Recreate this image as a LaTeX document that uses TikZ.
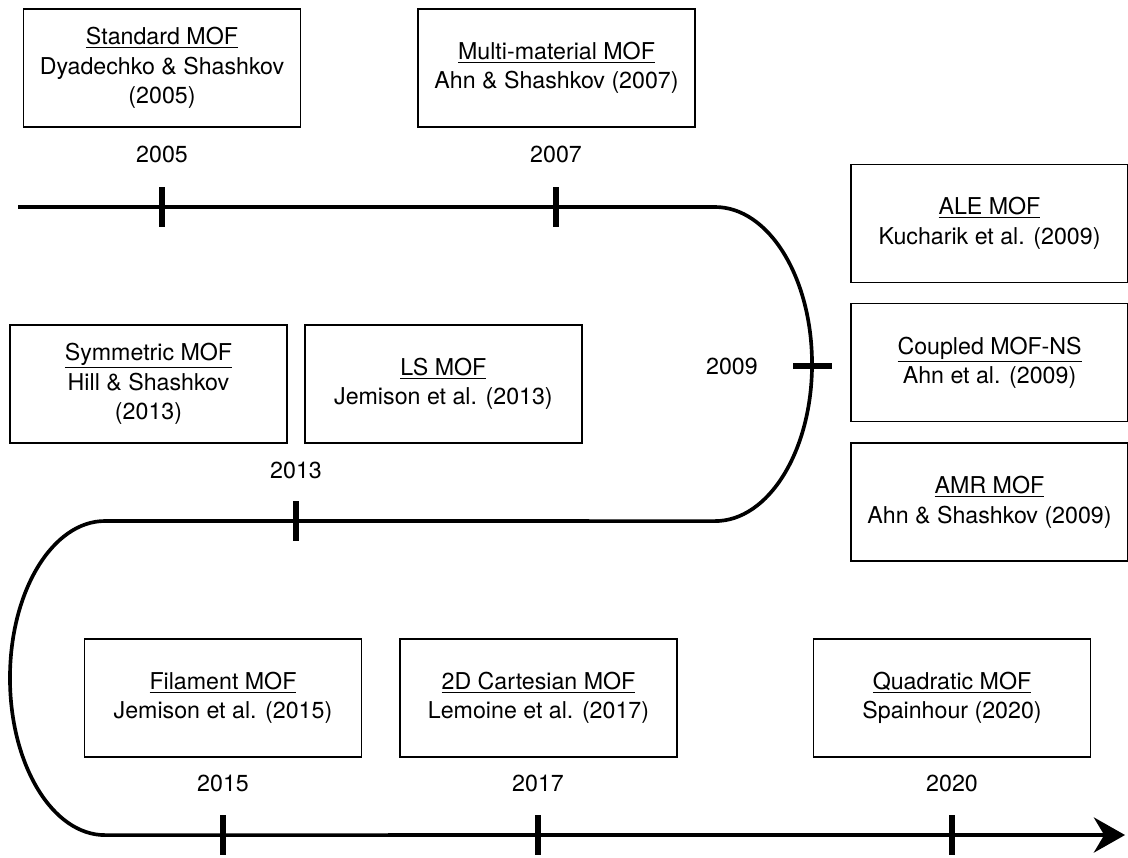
\documentclass[tikz,border=0pt]{standalone}
\usepackage{fontspec}
\setmainfont{TeX Gyre Heros}
\usetikzlibrary{arrows.meta, positioning, calc}

\begin{document}
\begin{tikzpicture}[
    x=0.025cm, y=-0.025cm,
    font=\fontsize{16.5}{21}\selectfont,
    box/.style={rectangle, draw, line width=0.9pt, minimum width=6.92cm, minimum height=2.95cm, align=center},
    year/.style={inner sep=0pt},
    tickmark/.style={line width=4pt},
    timeline/.style={line width=2.6pt}
]
\useasboundingbox (0,0) rectangle (1128,857);

% Timeline turning points
\coordinate (start) at (18,207);
\coordinate (turnA) at (715,207);
\coordinate (turnB) at (105,521);
\coordinate (finish) at (1125,835);

% Tick positions
\coordinate (t2005) at (162,207);
\coordinate (t2007) at (556,207);
\coordinate (t2009) at (812,366);
\coordinate (t2013) at (296,521);
\coordinate (t2015) at (223,835);
\coordinate (t2017) at (538,835);
\coordinate (t2020) at (952,835);

% Timeline
\draw[timeline, -{Stealth[length=0.78cm, width=0.88cm, inset=0.26cm]}]
    (start) -- (turnA)
    arc[start angle=90, end angle=-90, x radius=2.425cm, y radius=3.925cm]
    -- (turnB)
    arc[start angle=90, end angle=270, x radius=2.375cm, y radius=3.925cm]
    -- (finish);

% Ticks
\foreach \t in {t2005, t2007, t2013, t2015, t2017, t2020}
    \draw[tickmark] ($(\t)+(0,-20)$) -- ($(\t)+(0,20)$);
\draw[tickmark] ($(t2009)+(-19,0)$) -- ($(t2009)+(20,0)$);

% Years
\node[year, above=1.1cm of t2005] (y2005) {2005};
\node[year, above=1.1cm of t2007] (y2007) {2007};
\node[year, left=1.35cm of t2009] (y2009) {2009};
\node[year, above=1.05cm of t2013] (y2013) {2013};
\node[year, above=1.08cm of t2015] (y2015) {2015};
\node[year, above=1.08cm of t2017] (y2017) {2017};
\node[year, above=1.08cm of t2020] (y2020) {2020};

% First row
\node[box] (standard) at (162,68) {\underline{Standard MOF}\\Dyadechko \& Shashkov\\(2005)};
\node[box] (multi) at (556.5,68) {\underline{Multi-material MOF}\\Ahn \& Shashkov (2007)};

% 2009 group
\node[box] (ale) at (989.5,223.5) {\underline{ALE MOF}\\Kucharik et al. (2009)};
\node[box, below=0.5cm of ale] (coupled) {\underline{Coupled MOF-NS}\\Ahn et al. (2009)};
\node[box, below=0.5cm of coupled] (amr) {\underline{AMR MOF}\\Ahn \& Shashkov (2009)};

% 2013 group
\node[box] (symmetric) at (148.5,384) {\underline{Symmetric MOF}\\Hill \& Shashkov\\(2013)};
\node[box, right=0.42cm of symmetric] (ls) {\underline{LS MOF}\\Jemison et al. (2013)};

% Last row
\node[box] (filament) at (223,698) {\underline{Filament MOF}\\Jemison et al. (2015)};
\node[box] (cartesian) at (538.5,698) {\underline{2D Cartesian MOF}\\Lemoine et al. (2017)};
\node[box] (quadratic) at (952,698) {\underline{Quadratic MOF}\\Spainhour (2020)};

\end{tikzpicture}
\end{document}
